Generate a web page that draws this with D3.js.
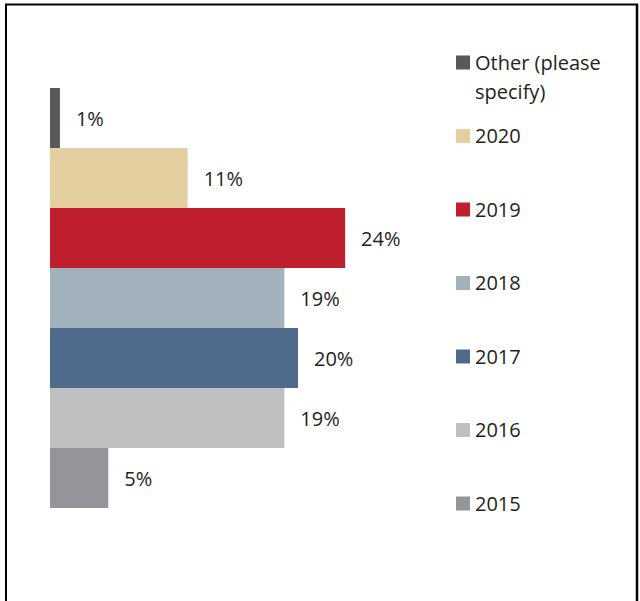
<!DOCTYPE html>
<html>
<head>
<meta charset="utf-8">
<script src="https://cdn.jsdelivr.net/npm/d3@7"></script>
<style>
  body { margin: 0; background: #fff; }
  text { font-family: "Open Sans", "Noto Sans", sans-serif; fill: #231f20; }
</style>
</head>
<body>
<svg width="640" height="601"></svg>
<script>
// data, top bar first
var categories = ["Other (please specify)", "2020", "2019", "2018", "2017", "2016", "2015"]
var values = [0.8, 11.1, 23.8, 18.9, 20.0, 18.9, 4.7]
var labels = ["1%", "11%", "24%", "19%", "20%", "19%", "5%"]
var colors = ["#58595b", "#e3cfa0", "#c01f2f", "#a2b2bc", "#506a8b", "#bfc0c2", "#939598"]
var legend_lines = [["Other (please", "specify)"], ["2020"], ["2019"], ["2018"], ["2017"], ["2016"], ["2015"]]

var bar_left = 50
var label_gap = 16
var legend_x = 456
var legend_y0 = 69.5
var legend_step = 73.5

var svg = d3.select("svg")

/******
*frame*
******/
svg.append("line")
  .attr("x1", 5).attr("x2", 638).attr("y1", 4.5).attr("y2", 4.5)
  .attr("stroke", "black").attr("stroke-width", 2)
svg.append("line")
  .attr("x1", 6).attr("x2", 6).attr("y1", 4).attr("y2", 601)
  .attr("stroke", "black").attr("stroke-width", 2)
svg.append("line")
  .attr("x1", 637).attr("x2", 637).attr("y1", 4).attr("y2", 601)
  .attr("stroke", "black").attr("stroke-width", 2.5)

/*****
*bars*
*****/
var x = d3.scaleLinear()
  .domain([0, 25])
  .range([bar_left, bar_left + 310])

var y = d3.scaleBand()
  .domain(categories)
  .range([88, 508])
  .padding(0)

var rows = categories.map(function(c, i){
    return {cat: c, val: values[i], label: labels[i], color: colors[i]}
})

var bars = svg.append("g").attr("class", "bars")
  .selectAll("g")
  .data(rows)
  .enter()
  .append("g")

bars.append("rect")
  .attr("x", x(0))
  .attr("y", function(d){ return y(d.cat) })
  .attr("width", function(d){ return x(d.val) - x(0) })
  .attr("height", y.bandwidth())
  .attr("fill", function(d){ return d.color })

bars.append("text")
  .text(function(d){ return d.label })
  .attr("x", function(d){ return x(d.val) + label_gap })
  .attr("y", function(d){ return y(d.cat) + y.bandwidth()/2 + 1 })
  .attr("dy", "0.36em")
  .attr("font-size", 20)

/*******
*legend*
*******/
var leg = svg.append("g").attr("class", "legend")
  .selectAll("g")
  .data(rows)
  .enter()
  .append("g")
  .attr("transform", function(d, i){ return "translate(" + legend_x + "," + (legend_y0 + i*legend_step) + ")" })

leg.append("rect")
  .attr("x", 0).attr("y", -14)
  .attr("width", 14).attr("height", 14)
  .attr("fill", function(d){ return d.color })

leg.append("text")
  .attr("x", 19)
  .attr("y", 0)
  .attr("font-size", 20)
  .selectAll("tspan")
  .data(function(d, i){ return legend_lines[i] })
  .enter()
  .append("tspan")
  .attr("x", 19)
  .attr("dy", function(d, j){ return j == 0 ? 0 : 29 })
  .text(function(d){ return d })
</script>
</body>
</html>
